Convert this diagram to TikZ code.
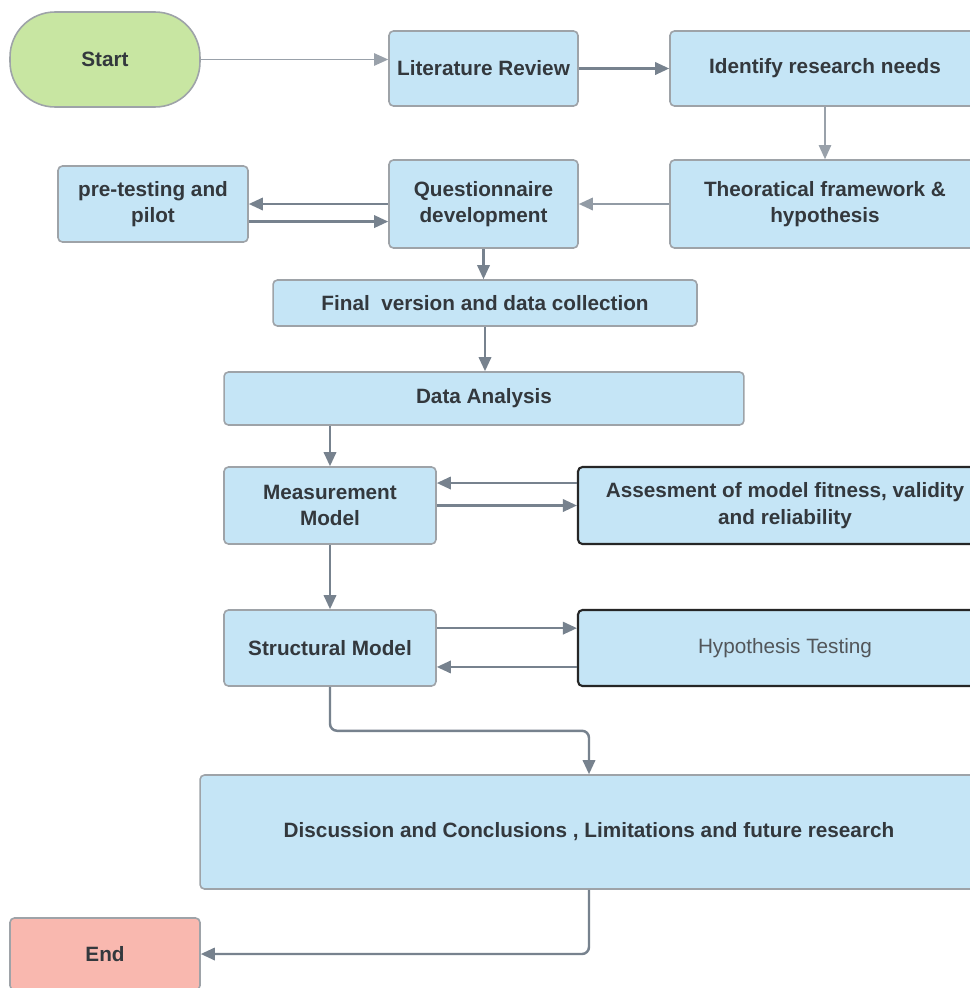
\documentclass[tikz,border=0pt]{standalone}
\usepackage{fontspec}
\setmainfont{Liberation Sans}
\usetikzlibrary{arrows.meta}
\definecolor{boxfill}{HTML}{C5E5F6}
\definecolor{boxline}{HTML}{9EA3A8}
\definecolor{startfill}{HTML}{C8E6A2}
\definecolor{endfill}{HTML}{F9B8AF}
\definecolor{flow}{HTML}{77828E}
\definecolor{ink}{HTML}{33383D}
\tikzset{
  stepbox/.style={draw=boxline, fill=boxfill, line width=0.9pt, rounded corners=2.5pt,
    align=center, text=ink, font=\bfseries\fontsize{11.8}{15}\selectfont, inner sep=2pt},
  darkbox/.style={stepbox, draw=black!85, line width=1.2pt},
  flowline/.style={draw=flow, line width=1.4pt, -{Triangle[length=8pt,width=7pt]}},
  thinline/.style={flowline, line width=0.9pt, draw=flow!75},
}

\begin{document}
\begin{tikzpicture}[x=0.02cm, y=-0.02cm]
  \useasboundingbox (0,0) rectangle (970,988);
  \clip (0,0) rectangle (970,988);
  \fill[white] (0,0) rectangle (970,988);

  % top row
  \node[stepbox, fill=startfill, rounded corners=0.9cm, minimum width=3.8cm, minimum height=1.9cm] (start) at (105,59.5) {Start};
  \node[stepbox, minimum width=3.78cm, minimum height=1.5cm] (lit) at (483.5,68.5) {Literature Review};
  \node[stepbox, minimum width=6.2cm, minimum height=1.5cm] (ident) at (825,68.5) {Identify research needs};

  % second row
  \node[stepbox, minimum width=6.2cm, minimum height=1.76cm] (theo) at (825,204) {Theoratical framework \&\\hypothesis};
  \node[stepbox, minimum width=3.78cm, minimum height=1.76cm] (quest) at (483.5,204) {Questionnaire\\development};
  \node[stepbox, minimum width=3.8cm, minimum height=1.52cm] (pre) at (153,204) {pre-testing and\\pilot};

  \node[stepbox, minimum width=8.48cm, minimum height=0.92cm] (final) at (485,303) {Final\ \ version and data collection};
  \node[stepbox, minimum width=10.4cm, minimum height=1.06cm] (data) at (484,398.5) {Data Analysis};

  % models
  \node[stepbox, minimum width=4.24cm, minimum height=1.54cm] (meas) at (330,505.5) {Measurement\\Model};
  \node[darkbox, minimum width=8.28cm, minimum height=1.54cm] (assess) at (785,505.5) {Assesment of model fitness, validity\\and reliability};
  \node[stepbox, minimum width=4.24cm, minimum height=1.52cm] (struct) at (330,648) {Structural Model};
  \node[darkbox, minimum width=8.28cm, minimum height=1.52cm, font=\fontsize{11.8}{15}\selectfont, text=ink!85] (hyp) at (785,648) {Hypothesis Testing};

  \node[stepbox, minimum width=15.56cm, minimum height=2.28cm] (disc) at (589,832) {Discussion and Conclusions , Limitations and future research};
  \node[stepbox, fill=endfill, minimum width=3.8cm, minimum height=1.44cm] (end) at (105,954) {End};

  % connectors
  \draw[thinline] (start.east) -- (start.east -| lit.west);
  \draw[flowline] (lit.east) -- (ident.west);
  \draw[thinline] (ident.south) -- (theo.north);
  \draw[flowline, draw=flow!80] (theo.west) -- (quest.east);
  \draw[flowline] (quest.west) -- (pre.east);
  \draw[flowline] ([yshift=-10pt]pre.east) -- ([yshift=-10pt]quest.west);
  \draw[flowline] (quest.south) -- (quest.south |- final.north);
  \draw[flowline] (final.south) -- (final.south |- data.north);
  \draw[flowline] (meas.north |- data.south) -- (meas.north);
  \draw[flowline] ([yshift=12.8pt]assess.west) -- ([yshift=12.8pt]meas.east);
  \draw[flowline] (meas.east) -- (assess.west);
  \draw[flowline] (meas.south) -- (struct.north);
  \draw[flowline] ([yshift=11.3pt]struct.east) -- ([yshift=11.3pt]hyp.west);
  \draw[flowline] ([yshift=-10.8pt]hyp.west) -- ([yshift=-10.8pt]struct.east);
  \draw[flowline, rounded corners=4pt] (struct.south) -- ++(0,44) -| (disc.north);
  \draw[flowline, rounded corners=4pt] (disc.south) |- (end.east);
\end{tikzpicture}
\end{document}
